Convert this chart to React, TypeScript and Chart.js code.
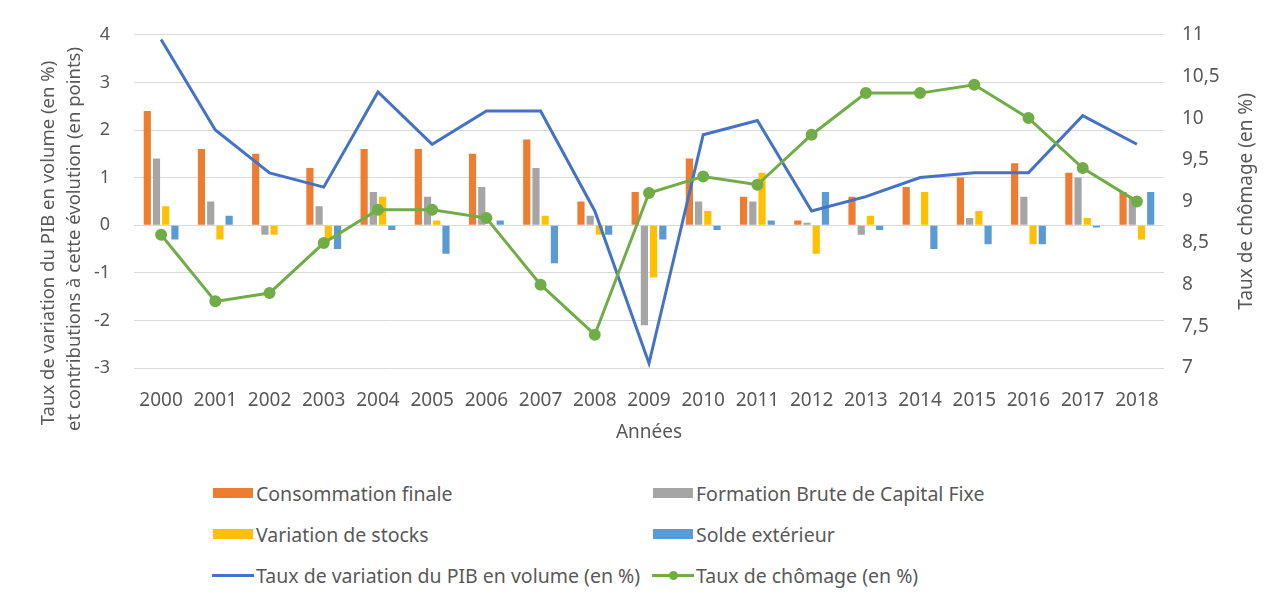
import React, { useEffect, useRef } from "react";
import { Chart, registerables } from "chart.js";

Chart.register(...registerables);

const years = ["2000", "2001", "2002", "2003", "2004", "2005", "2006", "2007", "2008", "2009", "2010", "2011", "2012", "2013", "2014", "2015", "2016", "2017", "2018"];
const consommation = [2.4, 1.6, 1.5, 1.2, 1.6, 1.6, 1.5, 1.8, 0.5, 0.7, 1.4, 0.6, 0.1, 0.6, 0.8, 1.0, 1.3, 1.1, 0.7];
const fbcf = [1.4, 0.5, -0.2, 0.4, 0.7, 0.6, 0.8, 1.2, 0.2, -2.1, 0.5, 0.5, 0.05, -0.2, 0, 0.15, 0.6, 1.0, 0.6];
const stocks = [0.4, -0.3, -0.2, -0.3, 0.6, 0.1, 0, 0.2, -0.2, -1.1, 0.3, 1.1, -0.6, 0.2, 0.7, 0.3, -0.4, 0.15, -0.3];
const solde = [-0.3, 0.2, 0, -0.5, -0.1, -0.6, 0.1, -0.8, -0.2, -0.3, -0.1, 0.1, 0.7, -0.1, -0.5, -0.4, -0.4, -0.05, 0.7];
const pib = [3.9, 2.0, 1.1, 0.8, 2.8, 1.7, 2.4, 2.4, 0.3, -2.9, 1.9, 2.2, 0.3, 0.6, 1.0, 1.1, 1.1, 2.3, 1.7];
const chomage = [8.6, 7.8, 7.9, 8.5, 8.9, 8.9, 8.8, 8.0, 7.4, 9.1, 9.3, 9.2, 9.8, 10.3, 10.3, 10.4, 10.0, 9.4, 9.0];

const leftTitle1 = "Taux de variation du PIB en volume (en %)";
const leftTitle2 = "et contributions à cette évolution (en points)";
const rightTitle = "Taux de chômage (en %)";
const xTitle = "Années";

const C_ORANGE = "#ED7D31";
const C_GRAY = "#A5A5A5";
const C_YELLOW = "#FFC000";
const C_BLUE = "#5B9BD5";
const C_LINE = "#4472C4";
const C_GREEN = "#70AD47";
const TEXT = "#595959";
const FONT = '"Noto Sans", "Open Sans", sans-serif';

const titlePlugin = {
  id: "axisTitles",
  afterDraw(chart: any) {
    const ctx = chart.ctx;
    const area = chart.chartArea;
    ctx.save();
    ctx.fillStyle = TEXT;
    ctx.textAlign = "center";
    ctx.textBaseline = "middle";
    ctx.font = "18.5px " + FONT;
    ctx.save();
    ctx.translate(49, 243);
    ctx.rotate(-Math.PI / 2);
    ctx.fillText(leftTitle1, 0, 0);
    ctx.restore();
    ctx.save();
    ctx.translate(75, 239);
    ctx.rotate(-Math.PI / 2);
    ctx.fillText(leftTitle2, 0, 0);
    ctx.restore();
    ctx.font = "19px " + FONT;
    ctx.save();
    ctx.translate(1247, (area.top + area.bottom) / 2);
    ctx.rotate(-Math.PI / 2);
    ctx.fillText(rightTitle, 0, 0);
    ctx.restore();
    ctx.fillText(xTitle, (area.left + area.right) / 2, 433);
    ctx.restore();
  },
};

function LegendItem(props: { left: number; top: number; kind: string; color: string; label: string }) {
  const { left, top, kind, color, label } = props;
  let swatch: any;
  if (kind === "bar") {
    swatch = <span style={{ display: "inline-block", width: 40, height: 10, background: color, marginRight: 3 }} />;
  } else {
    swatch = (
      <span style={{ position: "relative", display: "inline-block", width: 42, height: 12, marginRight: 2 }}>
        <span style={{ position: "absolute", left: 0, top: 5, width: 42, height: 3, background: color }} />
        {kind === "marker" ? (
          <span style={{ position: "absolute", left: 17, top: 2, width: 9, height: 9, borderRadius: "50%", background: color }} />
        ) : null}
      </span>
    );
  }
  return (
    <div
      style={{
        position: "absolute",
        left,
        top: top - 13,
        height: 26,
        display: "flex",
        alignItems: "center",
        whiteSpace: "nowrap",
        fontFamily: FONT,
        fontSize: 19.5,
        color: TEXT,
      }}
    >
      {swatch}
      <span>{label}</span>
    </div>
  );
}

export default function App() {
  const ref = useRef<HTMLCanvasElement | null>(null);

  useEffect(() => {
    if (!ref.current) return;
    const barCommon = {
      type: "bar" as const,
      yAxisID: "y",
      order: 2,
      categoryPercentage: 0.68,
      barPercentage: 0.78,
    };
    const chart = new Chart(ref.current, {
      type: "bar",
      data: {
        labels: years,
        datasets: [
          { ...barCommon, label: "Consommation finale", data: consommation, backgroundColor: C_ORANGE },
          { ...barCommon, label: "Formation Brute de Capital Fixe", data: fbcf, backgroundColor: C_GRAY },
          { ...barCommon, label: "Variation de stocks", data: stocks, backgroundColor: C_YELLOW },
          { ...barCommon, label: "Solde extérieur", data: solde, backgroundColor: C_BLUE },
          {
            type: "line",
            label: "Taux de variation du PIB en volume (en %)",
            data: pib,
            yAxisID: "y",
            order: 1,
            borderColor: C_LINE,
            backgroundColor: C_LINE,
            borderWidth: 3,
            pointRadius: 0,
            tension: 0,
          },
          {
            type: "line",
            label: "Taux de chômage (en %)",
            data: chomage,
            yAxisID: "y1",
            order: 0,
            borderColor: C_GREEN,
            backgroundColor: C_GREEN,
            pointBackgroundColor: C_GREEN,
            pointBorderColor: C_GREEN,
            borderWidth: 3,
            pointRadius: 4.5,
            tension: 0,
          },
        ] as any,
      },
      options: {
        responsive: false,
        animation: false,
        devicePixelRatio: 1,
        layout: { padding: { top: 32, left: 0, right: 0, bottom: 0 } },
        plugins: {
          legend: { display: false },
          tooltip: { enabled: false },
          title: { display: false },
        },
        scales: {
          x: {
            offset: true,
            grid: { display: false, drawTicks: false },
            border: { display: false },
            ticks: {
              padding: 21,
              maxRotation: 0,
              autoSkip: false,
              color: TEXT,
              font: { family: FONT, size: 19 },
            },
            afterFit: (s: any) => {
              s.height = 102;
            },
          },
          y: {
            position: "left",
            min: -3,
            max: 4,
            grid: { color: "#D9D9D9", lineWidth: 1, drawTicks: false },
            border: { display: false },
            ticks: {
              stepSize: 1,
              padding: 24,
              color: TEXT,
              font: { family: FONT, size: 18 },
            },
            afterFit: (s: any) => {
              s.width = 134;
            },
          },
          y1: {
            position: "right",
            min: 7,
            max: 11,
            grid: { display: false, drawTicks: false },
            border: { display: false },
            ticks: {
              stepSize: 0.5,
              padding: 18,
              color: TEXT,
              font: { family: FONT, size: 19 },
              callback: (v: any) => String(v).replace(".", ","),
            },
            afterFit: (s: any) => {
              s.width = 106;
            },
          },
        },
      } as any,
      plugins: [titlePlugin],
    });
    return () => chart.destroy();
  }, []);

  return (
    <div style={{ position: "fixed", left: 0, top: 0, width: 1270, height: 594, background: "#fff", overflow: "hidden" }}>
      <canvas ref={ref} width={1270} height={470} style={{ position: "absolute", left: 0, top: 0, width: 1270, height: 470 }} />
      <LegendItem left={213} top={493} kind="bar" color={C_ORANGE} label="Consommation finale" />
      <LegendItem left={653} top={493} kind="bar" color={C_GRAY} label="Formation Brute de Capital Fixe" />
      <LegendItem left={213} top={534} kind="bar" color={C_YELLOW} label="Variation de stocks" />
      <LegendItem left={653} top={534} kind="bar" color={C_BLUE} label="Solde extérieur" />
      <LegendItem left={212} top={575} kind="line" color={C_LINE} label="Taux de variation du PIB en volume (en %)" />
      <LegendItem left={652} top={575} kind="marker" color={C_GREEN} label="Taux de chômage (en %)" />
    </div>
  );
}
